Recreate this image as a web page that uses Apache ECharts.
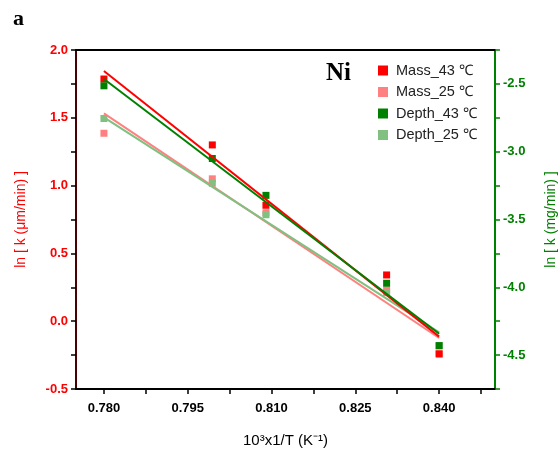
<!DOCTYPE html>
<html>
<head>
<meta charset="utf-8">
<script src="https://cdn.jsdelivr.net/npm/echarts@6/dist/echarts.min.js"></script>
<style>html,body{margin:0;padding:0;background:#fff}#c{width:560px;height:452px}</style>
</head>
<body>
<div id="c"></div>
<script>
// Data
const xValues = [0.780, 0.7994, 0.809, 0.8306, 0.840];
const mass43 = [1.786, 1.30, 0.855, 0.341, -0.242];
const mass25 = [1.386, 1.05, 0.80, 0.23, -0.235];
const depth43 = [-2.514, -3.050, -3.322, -3.970, -4.430];
const depth25 = [-2.755, -3.233, -3.465, -4.039, -4.43];
// fitted line endpoints (x0, x1) and (y0, y1)
const fitX = [0.780, 0.840];
const fitMass43 = [1.845, -0.114];
const fitMass25 = [1.533, -0.124];
const fitDepth43 = [-2.464, -4.342];
const fitDepth25 = [-2.747, -4.332];
const xTickValues = [0.78, 0.7875, 0.795, 0.8025, 0.81, 0.8175, 0.825, 0.8325, 0.84, 0.8475];
const xLabelValues = [0.78, 0.795, 0.81, 0.825, 0.84];
const seriesNames = ['Mass_43 \u2103', 'Mass_25 \u2103', 'Depth_43 \u2103', 'Depth_25 \u2103'];

const RED = '#ff0000', PINK = '#ff8080', GREEN = '#008000', LGREEN = '#80c080';
const FONT = 'Liberation Sans, Arial, sans-serif';

function pts(ys) { return xValues.map((x, i) => [x, ys[i]]); }
function line(ys) { return fitX.map((x, i) => [x, ys[i]]); }

const chart = echarts.init(document.getElementById('c'), null, {renderer: 'canvas'});
const scatterBase = {type: 'scatter', symbol: 'rect', symbolSize: 7, z: 3};
const lineBase = {type: 'line', showSymbol: false, symbol: 'none', z: 4, silent: true};

chart.setOption({
  animation: false,
  backgroundColor: '#fff',
  grid: {left: 76, top: 50, right: 65, bottom: 63, containLabel: false, outerBoundsMode: 'none'},
  xAxis: [{
    type: 'value', min: 0.775, max: 0.85, position: 'bottom',
    name: '10\u00b3x1/T (K\u207b\u00b9)', nameLocation: 'middle', nameGap: 44,
    nameTextStyle: {color: '#000', fontFamily: FONT, fontSize: 15},
    axisLine: {show: true, onZero: false, lineStyle: {color: '#000', width: 2}},
    axisTick: {show: true, inside: false, length: 5, customValues: xTickValues, lineStyle: {color: '#000', width: 1.5}},
    axisLabel: {customValues: xLabelValues, color: '#000', fontWeight: 'bold', fontFamily: FONT, fontSize: 13, margin: 13,
      formatter: v => v.toFixed(3)},
    splitLine: {show: false}
  }, {
    type: 'value', min: 0.775, max: 0.85, position: 'top',
    axisLine: {show: true, onZero: false, lineStyle: {color: '#000', width: 2}},
    axisTick: {show: false}, axisLabel: {show: false}, splitLine: {show: false}
  }],
  yAxis: [{
    type: 'value', min: -0.5, max: 2.0, interval: 0.25, position: 'left',
    name: 'ln [ k (\u03bcm/min) ]', nameLocation: 'middle', nameGap: 48, nameRotate: 90,
    nameTextStyle: {color: RED, fontFamily: FONT, fontSize: 14},
    axisLine: {show: true, onZero: false, lineStyle: {color: '#4a0000', width: 2}},
    axisTick: {show: true, length: 5, lineStyle: {color: '#000', width: 1.5}},
    axisLabel: {color: RED, fontWeight: 'bold', fontFamily: FONT, fontSize: 13, margin: 8,
      formatter: v => (Math.abs(Math.round(v * 2) - v * 2) < 1e-6) ? v.toFixed(1) : ''},
    splitLine: {show: false}
  }, {
    type: 'value', min: -4.75, max: -2.25, interval: 0.25, position: 'right',
    name: 'ln [ k (mg/min) ]', nameLocation: 'middle', nameGap: 49, nameRotate: 90,
    nameTextStyle: {color: GREEN, fontFamily: FONT, fontSize: 14},
    axisLine: {show: true, onZero: false, lineStyle: {color: GREEN, width: 2}},
    axisTick: {show: true, length: 5, lineStyle: {color: GREEN, width: 1.5}},
    axisLabel: {color: GREEN, fontWeight: 'bold', fontFamily: FONT, fontSize: 13, margin: 8,
      formatter: v => (Math.abs(Math.round(v * 2) - v * 2) < 1e-6) ? v.toFixed(1) : ''},
    splitLine: {show: false}
  }],
  legend: {
    orient: 'vertical', left: 373, top: 58, itemGap: 6.5,
    itemWidth: 10, itemHeight: 10, icon: 'rect',
    data: seriesNames,
    formatter: n => '{t|' + n + '}',
    textStyle: {color: '#222', fontFamily: FONT, fontSize: 14.5, padding: [0, 0, 0, 3],
      rich: {t: {color: '#222', fontFamily: FONT, fontSize: 14.5}}}
  },
  graphic: [
    {type: 'text', left: 13, top: 8, style: {text: 'a', fontFamily: 'Liberation Serif, Times New Roman, serif', fontWeight: 'bold', fontSize: 22, fill: '#000'}},
    {type: 'text', left: 326, top: 61, style: {text: 'Ni', fontFamily: 'Liberation Serif, Times New Roman, serif', fontWeight: 'bold', fontSize: 25, fill: '#000'}}
  ],
  series: [
    Object.assign({}, lineBase, {name: 'fitMass25', yAxisIndex: 0, data: line(fitMass25), lineStyle: {color: PINK, width: 2}}),
    Object.assign({}, lineBase, {name: 'fitDepth25', yAxisIndex: 1, data: line(fitDepth25), lineStyle: {color: LGREEN, width: 2}}),
    Object.assign({}, lineBase, {name: 'fitMass43', yAxisIndex: 0, data: line(fitMass43), lineStyle: {color: RED, width: 2}}),
    Object.assign({}, lineBase, {name: 'fitDepth43', yAxisIndex: 1, data: line(fitDepth43), lineStyle: {color: GREEN, width: 2}}),
    Object.assign({}, scatterBase, {name: seriesNames[1], yAxisIndex: 0, data: pts(mass25), itemStyle: {color: PINK, opacity: 1}}),
    Object.assign({}, scatterBase, {name: seriesNames[0], yAxisIndex: 0, data: pts(mass43), itemStyle: {color: RED, opacity: 1}}),
    Object.assign({}, scatterBase, {name: seriesNames[3], yAxisIndex: 1, data: pts(depth25), itemStyle: {color: LGREEN, opacity: 1}}),
    Object.assign({}, scatterBase, {name: seriesNames[2], yAxisIndex: 1, data: pts(depth43), itemStyle: {color: GREEN, opacity: 1}})
  ]
});
</script>
</body>
</html>
